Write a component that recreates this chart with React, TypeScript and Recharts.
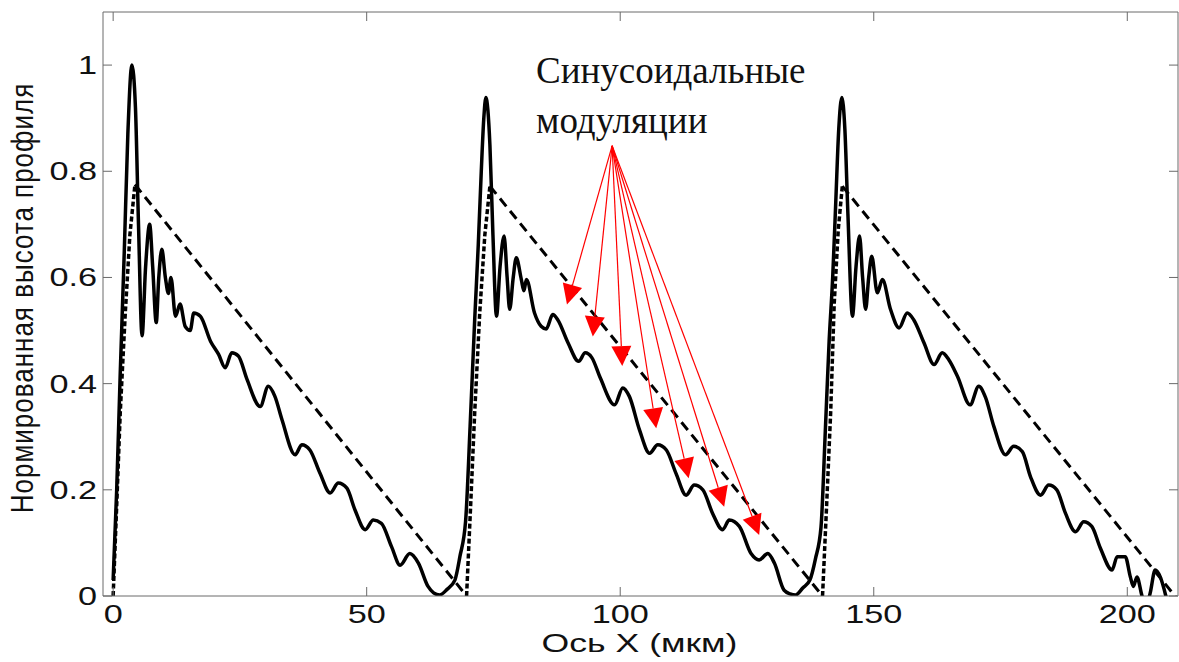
import React from "react";
import { LineChart, Line, XAxis, YAxis, ReferenceLine } from "recharts";

const xTicks = [0, 50, 100, 150, 200];
const yTicks = [0, 0.2, 0.4, 0.6, 0.8, 1];

const period1: [number, number][] = [
  [0, 0.03], [0.7, 0.2], [1.4, 0.42], [2.2, 0.65], [2.9, 0.87], [3.7, 1.0],
  [4.4, 0.92], [5.0, 0.7], [5.7, 0.49], [6.4, 0.62], [7.2, 0.7], [7.8, 0.62],
  [8.5, 0.515], [9.0, 0.6], [9.6, 0.653], [10.3, 0.6], [10.9, 0.57], [11.4, 0.6],
  [12.3, 0.527], [13.2, 0.55], [14.2, 0.508], [15.2, 0.5], [15.9, 0.533],
  [17.2, 0.527], [19.2, 0.48], [20.8, 0.455], [22.1, 0.43], [23.4, 0.458],
  [24.7, 0.452], [26.4, 0.408], [29.0, 0.357], [30.6, 0.395], [31.9, 0.376],
  [33.3, 0.332], [35.9, 0.266], [37.2, 0.285], [38.8, 0.275], [40.8, 0.231],
  [42.8, 0.194], [44.4, 0.213], [46.1, 0.203], [47.7, 0.162], [49.7, 0.125],
  [51.3, 0.143], [52.9, 0.137], [54.9, 0.093], [56.6, 0.058], [58.5, 0.08],
  [60.2, 0.062], [62.1, 0.018], [63.2, 0.006], [64.4, 0.002], [65.8, 0.012],
  [67.4, 0.03], [68.4, 0.075],
];

const period2: [number, number][] = [
  [69.5, 0.14], [70.4, 0.32], [71.3, 0.52], [72.0, 0.66], [72.6, 0.8], [73.1, 0.9],
  [73.5, 0.939], [74.3, 0.85], [74.9, 0.68], [75.6, 0.527], [76.3, 0.62], [77.1, 0.678],
  [77.7, 0.6], [78.2, 0.54], [78.9, 0.6], [79.5, 0.637], [80.5, 0.596], [81.0, 0.575],
  [81.5, 0.596], [83.1, 0.533], [84.4, 0.508], [85.4, 0.503], [86.7, 0.53],
  [87.7, 0.52], [89.7, 0.477], [91.8, 0.442], [93.1, 0.458], [94.4, 0.449],
  [96.1, 0.41], [98.9, 0.36], [100.5, 0.392], [101.8, 0.376], [103.8, 0.313],
  [105.8, 0.269], [107.4, 0.285], [109.1, 0.275], [111.0, 0.231], [113.0, 0.19],
  [114.6, 0.209], [116.3, 0.2], [118.2, 0.156], [120.2, 0.125], [121.5, 0.143],
  [123.5, 0.131], [125.8, 0.08], [127.4, 0.068], [129.1, 0.08], [130.4, 0.062],
  [132.3, 0.011], [133.5, 0.004], [134.6, 0.002], [136.0, 0.015], [137.4, 0.03],
  [138.5, 0.07],
];

const period3: [number, number][] = [
  [139.6, 0.13], [140.4, 0.3], [141.2, 0.48], [141.9, 0.6], [142.5, 0.74], [143.1, 0.88],
  [143.7, 0.939], [144.3, 0.88], [144.9, 0.72], [145.8, 0.527], [146.5, 0.62],
  [147.2, 0.678], [147.8, 0.6], [148.4, 0.54], [149.0, 0.6], [149.6, 0.64],
  [150.7, 0.571], [151.7, 0.596], [153.3, 0.54], [155.0, 0.505], [156.6, 0.533],
  [157.9, 0.52], [159.9, 0.477], [161.9, 0.436], [163.5, 0.458], [164.8, 0.445],
  [166.5, 0.414], [169.0, 0.36], [170.7, 0.395], [172.0, 0.375], [173.7, 0.319],
  [176.0, 0.266], [177.6, 0.282], [179.3, 0.272], [180.9, 0.225], [182.9, 0.19],
  [184.5, 0.209], [186.1, 0.2], [187.8, 0.156], [189.8, 0.121], [191.4, 0.14],
  [193.0, 0.131], [194.7, 0.09], [197.0, 0.049], [198.0, 0.074], [199.6, 0.074],
  [200.6, 0.036], [201.2, 0.018], [201.9, 0.036], [202.9, 0.0], [203.7, -0.02],
  [204.5, 0.005], [205.5, 0.049], [206.5, 0.036], [207.6, 0.0], [208.3, -0.03],
];

// ideal sawtooth: long dashed slopes and the steep front edges (null = gap)
const slopes: [number, number | null][] = [
  [4.3, 0.775], [69.7, 0], [72, null],
  [74.3, 0.772], [139.9, 0], [142, null],
  [143.8, 0.772], [210, -0.007],
];

const fronts: [number, number | null][] = [
  [0, 0], [0.7, 0.17], [1.4, 0.345], [2.4, 0.534], [3.3, 0.68], [4.3, 0.775], [30, null],
  [69.7, 0], [70.5, 0.17], [71.3, 0.345], [72.3, 0.534], [73.3, 0.68], [74.3, 0.772], [100, null],
  [139.9, 0], [140.7, 0.17], [141.5, 0.345], [142.2, 0.55], [143.0, 0.69], [143.8, 0.772],
];

// red arrows: common start and the tips
const arrowFrom = { x: 98.4, y: 0.848 };
const arrowTips = [
  { x: 89.5, y: 0.549 },
  { x: 94.6, y: 0.489 },
  { x: 100.4, y: 0.433 },
  { x: 107.1, y: 0.316 },
  { x: 113.5, y: 0.222 },
  { x: 120.5, y: 0.168 },
  { x: 127.4, y: 0.115 },
];

const toRows = (pts: [number, number | null][]) => pts.map(([x, y]) => ({ x, y }));
const profile = toRows([...period1, ...period2, ...period3]);

const AXIS = "#6a6a6a";
const TICK = 9;
const SANS = "'Liberation Sans', Arial, sans-serif";
const SERIF = "'Liberation Serif', 'Times New Roman', serif";
const WIDE = "scale(1.37,1)";

const BottomTick = ({ x, y, payload }: any) => (
  <g>
    <line x1={x} y1={y} x2={x} y2={y - TICK} stroke={AXIS} />
    <text transform={`translate(${x},${y + 27}) ${WIDE}`} textAnchor="middle" fontSize={25} fontFamily={SANS} fill="#111">
      {payload.value}
    </text>
  </g>
);

const TopTick = ({ x, y }: any) => <line x1={x} y1={y} x2={x} y2={y + TICK} stroke={AXIS} />;

const LeftTick = ({ x, y, payload }: any) => (
  <g>
    <line x1={x} y1={y} x2={x + TICK} y2={y} stroke={AXIS} />
    <text transform={`translate(${x - 6},${y + 9}) ${WIDE}`} textAnchor="end" fontSize={25} fontFamily={SANS} fill="#111">
      {payload.value}
    </text>
  </g>
);

const RightTick = ({ x, y }: any) => <line x1={x} y1={y} x2={x - TICK} y2={y} stroke={AXIS} />;

const XTitle = ({ viewBox }: any) => (
  <text
    transform={`translate(${viewBox.x + viewBox.width / 2 - 1},${viewBox.y + 56}) ${WIDE}`}
    textAnchor="middle"
    fontSize={26}
    fontFamily={SANS}
    fill="#111"
  >
    Ось X (мкм)
  </text>
);

const YTitle = ({ viewBox }: any) => (
  <text
    transform={`translate(${viewBox.x + 33},${viewBox.y + viewBox.height / 2 - 6}) rotate(-90) scale(1,1.2)`}
    textAnchor="middle"
    fontSize={26}
    letterSpacing={1}
    fontFamily={SANS}
    fill="#111"
  >
    Нормированная высота профиля
  </text>
);

const Arrow = ({ x1, y1, x2, y2 }: any) => {
  const dx = x2 - x1;
  const dy = y2 - y1;
  const len = Math.hypot(dx, dy);
  const ux = dx / len;
  const uy = dy / len;
  const bx = x2 - ux * 20;
  const by = y2 - uy * 20;
  const head = `${x2},${y2} ${bx - uy * 10},${by + ux * 10} ${bx + uy * 10},${by - ux * 10}`;
  return (
    <g>
      <line x1={x1} y1={y1} x2={bx} y2={by} stroke="#ff0000" strokeWidth={1.2} />
      <polygon points={head} fill="#ff0000" />
    </g>
  );
};

export default function App() {
  return (
    <div style={{ position: "absolute", left: 0, top: 0, width: 1179, height: 660, background: "#fff" }}>
      <LineChart width={1179} height={660} margin={{ top: 11, right: 0, bottom: 0, left: 0 }}>
        <XAxis
          dataKey="x"
          type="number"
          domain={[-2, 210]}
          ticks={xTicks}
          allowDataOverflow
          height={64}
          stroke={AXIS}
          tickSize={0}
          tickMargin={0}
          tick={<BottomTick />}
          label={<XTitle />}
        />
        <XAxis
          xAxisId="top"
          orientation="top"
          dataKey="x"
          type="number"
          domain={[-2, 210]}
          ticks={xTicks}
          allowDataOverflow
          height={1}
          stroke={AXIS}
          tickSize={0}
          tickMargin={0}
          tick={<TopTick />}
        />
        <YAxis
          type="number"
          domain={[0, 1.1]}
          ticks={yTicks}
          allowDataOverflow
          width={103}
          stroke={AXIS}
          tickSize={0}
          tickMargin={0}
          tick={<LeftTick />}
          label={<YTitle />}
        />
        <YAxis
          yAxisId="right"
          orientation="right"
          type="number"
          domain={[0, 1.1]}
          ticks={yTicks}
          allowDataOverflow
          width={1}
          stroke={AXIS}
          tickSize={0}
          tickMargin={0}
          tick={<RightTick />}
        />
        <Line
          data={profile}
          dataKey="y"
          type="monotone"
          stroke="#000"
          strokeWidth={3.5}
          dot={false}
          activeDot={false}
          isAnimationActive={false}
        />
        <Line
          data={toRows(fronts)}
          dataKey="y"
          type="linear"
          stroke="#000"
          strokeWidth={3.5}
          strokeDasharray="5 2.5"
          dot={false}
          activeDot={false}
          isAnimationActive={false}
        />
        <Line
          data={toRows(slopes)}
          dataKey="y"
          type="linear"
          stroke="#000"
          strokeWidth={3}
          strokeDasharray="10 6"
          dot={false}
          activeDot={false}
          isAnimationActive={false}
        />
        {arrowTips.map((tip, i) => (
          <ReferenceLine key={i} segment={[arrowFrom, tip]} shape={Arrow} ifOverflow="visible" />
        ))}
      </LineChart>
      <svg width={1179} height={660} style={{ position: "absolute", left: 0, top: 0, pointerEvents: "none" }}>
        <text x={536} y={83} fontSize={37} fontFamily={SERIF} fill="#111">
          Синусоидальные
        </text>
        <text x={536} y={133} fontSize={37} fontFamily={SERIF} fill="#111">
          модуляции
        </text>
      </svg>
    </div>
  );
}
